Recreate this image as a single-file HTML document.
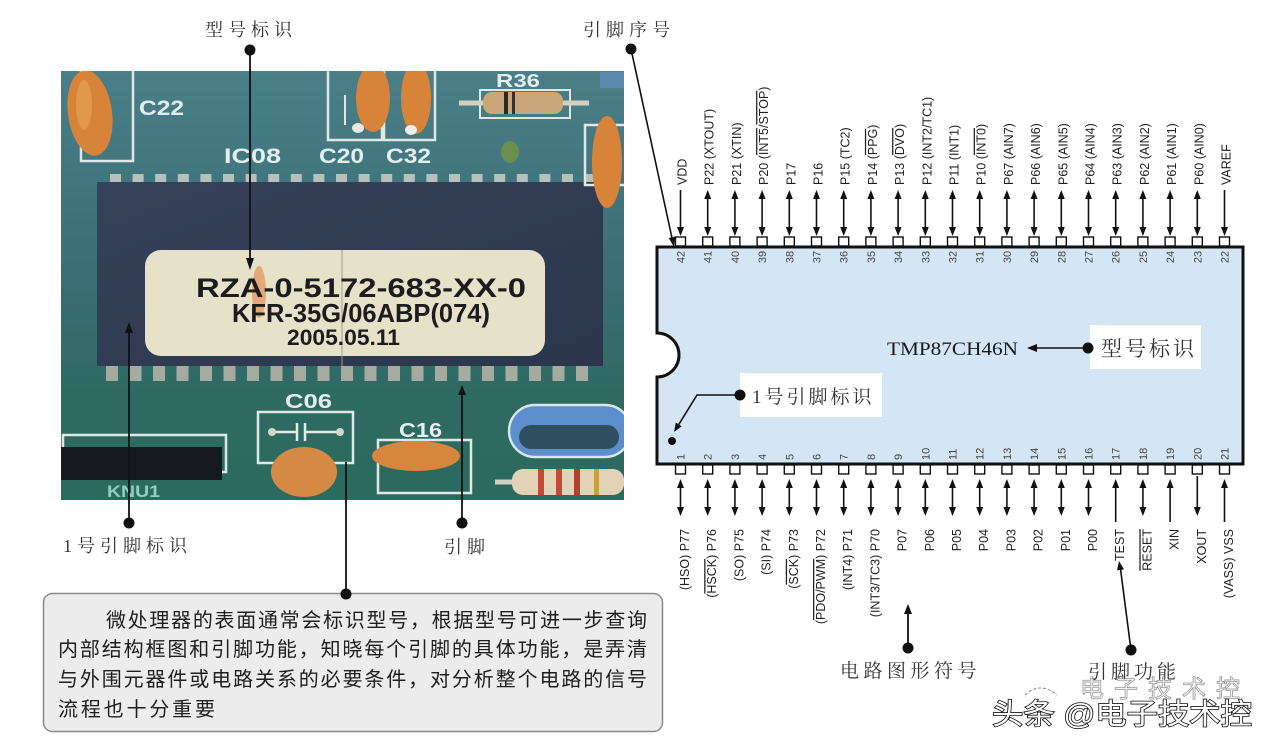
<!DOCTYPE html>
<html><head><meta charset="utf-8"><style>
html,body{margin:0;padding:0;background:#fff;}
svg{display:block;}
.lab{font-family:"Liberation Sans",sans-serif;font-size:12.5px;fill:#1f1f1f;}
.num{font-family:"Liberation Sans",sans-serif;font-size:11px;fill:#444;}
.cn{font-family:"Liberation Serif","Noto Serif CJK SC",serif;fill:#333;}
.ss{font-family:"Liberation Sans",sans-serif;font-weight:bold;fill:#e4eeee;}
.ov{text-decoration:overline;}
</style></head><body>
<svg width="1280" height="754" viewBox="0 0 1280 754" xmlns="http://www.w3.org/2000/svg">
<defs>
<clipPath id="ph"><rect x="61" y="71" width="563" height="429"/></clipPath>
<linearGradient id="pcb" x1="0" y1="0" x2="0" y2="1">
<stop offset="0" stop-color="#4a7f87"/><stop offset="0.45" stop-color="#3b6f78"/><stop offset="0.75" stop-color="#2f6a62"/><stop offset="1" stop-color="#2b6a5e"/>
</linearGradient>
<linearGradient id="chipg" x1="0" y1="0" x2="1" y2="1">
<stop offset="0" stop-color="#37425a"/><stop offset="1" stop-color="#2b364c"/>
</linearGradient>
<g id="tb"><line x1="0" y1="196" x2="0" y2="229" stroke="#111" stroke-width="1.6"/><polygon points="-3.5,199 3.5,199 0,190" fill="#111"/><polygon points="-3.5,227 3.5,227 0,236" fill="#111"/></g>
<g id="td"><line x1="0" y1="190" x2="0" y2="229" stroke="#111" stroke-width="1.6"/><polygon points="-3.5,227 3.5,227 0,236" fill="#111"/></g>
<g id="bb"><line x1="0" y1="485" x2="0" y2="510" stroke="#111" stroke-width="1.6"/><polygon points="-3.5,488 3.5,488 0,479" fill="#111"/><polygon points="-3.5,507 3.5,507 0,516" fill="#111"/></g>
<g id="bu"><line x1="0" y1="485" x2="0" y2="522" stroke="#111" stroke-width="1.6"/><polygon points="-3.5,488 3.5,488 0,479" fill="#111"/></g>
<g id="bd"><line x1="0" y1="476" x2="0" y2="510" stroke="#111" stroke-width="1.6"/><polygon points="-3.5,507 3.5,507 0,516" fill="#111"/></g>
<rect id="tp" x="-5" y="237" width="10" height="9" fill="#fff" stroke="#111" stroke-width="1.4"/>
<rect id="bp" x="-5" y="465" width="10" height="9" fill="#fff" stroke="#111" stroke-width="1.4"/>
</defs>

<rect width="1280" height="754" fill="#fff"/>

<!-- ================= PHOTO ================= -->
<g clip-path="url(#ph)">
<rect x="61" y="71" width="563" height="429" fill="url(#pcb)"/>
<rect x="97" y="182" width="506" height="184" fill="url(#chipg)"/>
<g fill="#b7c1bc">
<rect x="110" y="174" width="11" height="8"/><rect x="132.6" y="174" width="11" height="8"/><rect x="155.2" y="174" width="11" height="8"/><rect x="177.8" y="174" width="11" height="8"/><rect x="200.4" y="174" width="11" height="8"/><rect x="223" y="174" width="11" height="8"/><rect x="245.6" y="174" width="11" height="8"/><rect x="268.2" y="174" width="11" height="8"/><rect x="290.8" y="174" width="11" height="8"/><rect x="313.4" y="174" width="11" height="8"/><rect x="336" y="174" width="11" height="8"/><rect x="358.6" y="174" width="11" height="8"/><rect x="381.2" y="174" width="11" height="8"/><rect x="403.8" y="174" width="11" height="8"/><rect x="426.4" y="174" width="11" height="8"/><rect x="449" y="174" width="11" height="8"/><rect x="471.6" y="174" width="11" height="8"/><rect x="494.2" y="174" width="11" height="8"/><rect x="516.8" y="174" width="11" height="8"/><rect x="539.4" y="174" width="11" height="8"/><rect x="562" y="174" width="11" height="8"/><rect x="584.6" y="174" width="11" height="8"/>
</g>
<g fill="#a5aba0">
<rect x="106" y="366" width="12" height="15"/><rect x="129.5" y="366" width="12" height="15"/><rect x="153" y="366" width="12" height="15"/><rect x="176.5" y="366" width="12" height="15"/><rect x="200" y="366" width="12" height="15"/><rect x="223.5" y="366" width="12" height="15"/><rect x="247" y="366" width="12" height="15"/><rect x="270.5" y="366" width="12" height="15"/><rect x="294" y="366" width="12" height="15"/><rect x="317.5" y="366" width="12" height="15"/><rect x="341" y="366" width="12" height="15"/><rect x="364.5" y="366" width="12" height="15"/><rect x="388" y="366" width="12" height="15"/><rect x="411.5" y="366" width="12" height="15"/><rect x="435" y="366" width="12" height="15"/><rect x="458.5" y="366" width="12" height="15"/><rect x="482" y="366" width="12" height="15"/><rect x="505.5" y="366" width="12" height="15"/><rect x="529" y="366" width="12" height="15"/><rect x="552.5" y="366" width="12" height="15"/><rect x="576" y="366" width="12" height="15"/>
</g>
<rect x="145" y="250" width="400" height="106" rx="16" fill="#e6e2c9"/>
<line x1="342" y1="250" x2="342" y2="366" stroke="#9a9a90" stroke-width="1"/>
<ellipse cx="259" cy="292" rx="7" ry="26" fill="#e49a68" opacity="0.8"/>
<text x="196" y="297" font-family="Liberation Sans, sans-serif" font-weight="bold" font-size="27" fill="#1c1c1c" textLength="330" lengthAdjust="spacingAndGlyphs">RZA-0-5172-683-XX-0</text>
<text x="232" y="322" font-family="Liberation Sans, sans-serif" font-weight="bold" font-size="26" fill="#1c1c1c" textLength="258" lengthAdjust="spacingAndGlyphs">KFR-35G/06ABP(074)</text>
<text x="287" y="345" font-family="Liberation Sans, sans-serif" font-weight="bold" font-size="22" fill="#1c1c1c" textLength="113" lengthAdjust="spacingAndGlyphs">2005.05.11</text>

<rect x="81" y="64" width="52" height="97" fill="none" stroke="#dfe8e6" stroke-width="2.5"/>
<ellipse cx="90" cy="113" rx="22" ry="43" fill="#d7843a" transform="rotate(-8 90 113)"/>
<ellipse cx="84" cy="105" rx="8" ry="25" fill="#e8a45a" opacity="0.6"/>
<text x="139" y="115" class="ss" font-size="21" textLength="45" lengthAdjust="spacingAndGlyphs">C22</text>
<rect x="328" y="60" width="54" height="80" fill="none" stroke="#dfe8e6" stroke-width="2.5"/>
<rect x="384" y="60" width="51" height="80" fill="none" stroke="#dfe8e6" stroke-width="2.5"/>
<ellipse cx="373" cy="98" rx="17" ry="34" fill="#d7843a"/>
<ellipse cx="358" cy="128" rx="6" ry="5" fill="#e8e8e0"/>
<ellipse cx="416" cy="98" rx="15" ry="36" fill="#d7843a"/>
<ellipse cx="411" cy="130" rx="6" ry="5" fill="#f0f0ea"/>
<line x1="345" y1="95" x2="345" y2="125" stroke="#dfe8e6" stroke-width="2"/>
<text x="224" y="163" class="ss" font-size="21" textLength="57" lengthAdjust="spacingAndGlyphs">IC08</text>
<text x="319" y="163" class="ss" font-size="21" textLength="45" lengthAdjust="spacingAndGlyphs">C20</text>
<text x="386" y="163" class="ss" font-size="21" textLength="45" lengthAdjust="spacingAndGlyphs">C32</text>
<text x="496" y="87" class="ss" font-size="18" textLength="44" lengthAdjust="spacingAndGlyphs">R36</text>
<rect x="480" y="90" width="90" height="28" fill="none" stroke="#dfe8e6" stroke-width="2"/>
<line x1="459" y1="103" x2="589" y2="103" stroke="#d2d2c4" stroke-width="5"/>
<rect x="483" y="92" width="80" height="22" rx="9" fill="#c9a77a"/>
<rect x="504" y="92" width="4" height="22" fill="#2a2a2a"/>
<rect x="512" y="92" width="3" height="22" fill="#3a3030"/>
<ellipse cx="510" cy="152" rx="9" ry="11" fill="#6b8f4a"/>
<rect x="585" y="125" width="45" height="60" fill="none" stroke="#dfe8e6" stroke-width="2.5"/>
<ellipse cx="607" cy="162" rx="15" ry="46" fill="#d7843a"/>
<rect x="600" y="72" width="24" height="16" fill="#5a8ab0"/>

<rect x="63" y="435" width="163" height="37" fill="none" stroke="#dfe8e6" stroke-width="2.5"/>
<rect x="61" y="447" width="161" height="33" fill="#151a1c"/>
<text x="107" y="497" class="ss" font-size="17" style="fill:#8fd0c0" textLength="53" lengthAdjust="spacingAndGlyphs">KNU1</text>
<rect x="258" y="412" width="95" height="51" fill="none" stroke="#dfe8e6" stroke-width="2.5"/>
<ellipse cx="304" cy="472" rx="33" ry="25" fill="#d48a45"/>
<line x1="272" y1="432" x2="297" y2="432" stroke="#e4eaea" stroke-width="2.5"/>
<line x1="297" y1="423" x2="297" y2="441" stroke="#e4eaea" stroke-width="2.5"/>
<line x1="305" y1="423" x2="305" y2="441" stroke="#e4eaea" stroke-width="2.5"/>
<line x1="305" y1="432" x2="340" y2="432" stroke="#e4eaea" stroke-width="2.5"/>
<circle cx="272" cy="432" r="4" fill="#d0d6d4"/>
<circle cx="340" cy="432" r="4" fill="#d0d6d4"/>
<text x="285" y="408" class="ss" font-size="20" textLength="47" lengthAdjust="spacingAndGlyphs">C06</text>
<rect x="378" y="440" width="93" height="53" fill="none" stroke="#dfe8e6" stroke-width="2.5"/>
<ellipse cx="416" cy="456" rx="44" ry="15" fill="#d7863d"/>
<text x="399" y="437" class="ss" font-size="20" textLength="43" lengthAdjust="spacingAndGlyphs">C16</text>
<rect x="509" y="405" width="122" height="52" rx="26" fill="#5b8ecb" stroke="#d9e6e8" stroke-width="2.5"/>
<rect x="519" y="425" width="100" height="24" rx="12" fill="#2f4f60"/>
<line x1="495" y1="482" x2="624" y2="482" stroke="#cfcfc4" stroke-width="5"/>
<rect x="512" y="469" width="112" height="26" rx="11" fill="#e2d2b8"/>
<rect x="538" y="469" width="6" height="26" fill="#c84838"/>
<rect x="556" y="469" width="6" height="26" fill="#c84838"/>
<rect x="574" y="469" width="6" height="26" fill="#b04030"/>
<rect x="594" y="469" width="5" height="26" fill="#c8a040"/>
</g>

<circle cx="250" cy="50" r="5.5" fill="#111"/>
<line x1="250" y1="50" x2="250" y2="262" stroke="#111" stroke-width="1.8"/>
<polygon points="246,258 254,258 250,270" fill="#111"/>
<circle cx="129" cy="523" r="5.5" fill="#111"/>
<line x1="129" y1="523" x2="129" y2="330" stroke="#111" stroke-width="1.8"/>
<polygon points="125,333 133,333 129,322" fill="#111"/>
<circle cx="462" cy="523" r="5.5" fill="#111"/>
<line x1="462" y1="523" x2="462" y2="392" stroke="#111" stroke-width="1.8"/>
<polygon points="458,395 466,395 462,385" fill="#111"/>
<line x1="346" y1="594" x2="346" y2="462" stroke="#111" stroke-width="1.8"/>

<text x="205" y="36" class="cn" font-size="18" letter-spacing="5">型号标识</text>
<text x="583" y="36" class="cn" font-size="18" letter-spacing="5">引脚序号</text>
<text x="63" y="552" class="cn" font-size="18" letter-spacing="5">1号引脚标识</text>
<text x="444" y="553" class="cn" font-size="18" letter-spacing="5">引脚</text>

<rect x="43.5" y="593.5" width="619" height="138" rx="9" fill="#ececec" stroke="#8a8a8a" stroke-width="1.5"/>
<circle cx="346" cy="594" r="5.5" fill="#111"/>
<g font-family="Liberation Sans, 'Noto Sans CJK SC', sans-serif" font-size="20" fill="#1e1e1e">
<text x="106" y="627" textLength="541" lengthAdjust="spacing">微处理器的表面通常会标识型号，根据型号可进一步查询</text>
<text x="58" y="656" textLength="589" lengthAdjust="spacing">内部结构框图和引脚功能，知晓每个引脚的具体功能，是弄清</text>
<text x="58" y="686" textLength="589" lengthAdjust="spacing">与外围元器件或电路关系的必要条件，对分析整个电路的信号</text>
<text x="58" y="716" textLength="157" lengthAdjust="spacing">流程也十分重要</text>
</g>

<!-- ================= CHIP DIAGRAM ================= -->
<circle cx="631" cy="49" r="5.5" fill="#111"/>
<line x1="631" y1="49" x2="672" y2="238" stroke="#111" stroke-width="1.6"/>
<polygon points="675.5,236.5 668.7,238 674,247" fill="#111"/>

<use href="#tp" x="680.5"/><use href="#tp" x="707.7"/><use href="#tp" x="734.9"/><use href="#tp" x="762.1"/><use href="#tp" x="789.3"/><use href="#tp" x="816.5"/><use href="#tp" x="843.7"/><use href="#tp" x="870.9"/><use href="#tp" x="898.1"/><use href="#tp" x="925.3"/><use href="#tp" x="952.5"/><use href="#tp" x="979.7"/><use href="#tp" x="1006.9"/><use href="#tp" x="1034.1"/><use href="#tp" x="1061.3"/><use href="#tp" x="1088.5"/><use href="#tp" x="1115.7"/><use href="#tp" x="1142.9"/><use href="#tp" x="1170.1"/><use href="#tp" x="1197.3"/><use href="#tp" x="1224.5"/>
<use href="#bp" x="680.5"/><use href="#bp" x="707.7"/><use href="#bp" x="734.9"/><use href="#bp" x="762.1"/><use href="#bp" x="789.3"/><use href="#bp" x="816.5"/><use href="#bp" x="843.7"/><use href="#bp" x="870.9"/><use href="#bp" x="898.1"/><use href="#bp" x="925.3"/><use href="#bp" x="952.5"/><use href="#bp" x="979.7"/><use href="#bp" x="1006.9"/><use href="#bp" x="1034.1"/><use href="#bp" x="1061.3"/><use href="#bp" x="1088.5"/><use href="#bp" x="1115.7"/><use href="#bp" x="1142.9"/><use href="#bp" x="1170.1"/><use href="#bp" x="1197.3"/><use href="#bp" x="1224.5"/>

<path d="M657,247 H1243 V464 H657 V377 A22,22 0 0 0 657,333 Z" fill="#d4e6f4" stroke="#111" stroke-width="3"/>

<use href="#td" x="680.5"/><use href="#tb" x="707.7"/><use href="#tb" x="734.9"/><use href="#tb" x="762.1"/><use href="#tb" x="789.3"/><use href="#tb" x="816.5"/><use href="#tb" x="843.7"/><use href="#tb" x="870.9"/><use href="#tb" x="898.1"/><use href="#tb" x="925.3"/><use href="#tb" x="952.5"/><use href="#tb" x="979.7"/><use href="#tb" x="1006.9"/><use href="#tb" x="1034.1"/><use href="#tb" x="1061.3"/><use href="#tb" x="1088.5"/><use href="#tb" x="1115.7"/><use href="#tb" x="1142.9"/><use href="#tb" x="1170.1"/><use href="#tb" x="1197.3"/><use href="#td" x="1224.5"/>
<use href="#bb" x="680.5"/><use href="#bb" x="707.7"/><use href="#bb" x="734.9"/><use href="#bb" x="762.1"/><use href="#bb" x="789.3"/><use href="#bb" x="816.5"/><use href="#bb" x="843.7"/><use href="#bb" x="870.9"/><use href="#bb" x="898.1"/><use href="#bb" x="925.3"/><use href="#bb" x="952.5"/><use href="#bb" x="979.7"/><use href="#bb" x="1006.9"/><use href="#bb" x="1034.1"/><use href="#bb" x="1061.3"/><use href="#bb" x="1088.5"/><use href="#bu" x="1115.7"/><use href="#bb" x="1142.9"/><use href="#bu" x="1170.1"/><use href="#bd" x="1197.3"/><use href="#bu" x="1224.5"/>

<g class="lab">
<text transform="translate(686.5,185) rotate(-90)">VDD</text>
<text transform="translate(713.7,185) rotate(-90)">P22 (XTOUT)</text>
<text transform="translate(740.9,185) rotate(-90)">P21 (XTIN)</text>
<text transform="translate(768.1,185) rotate(-90)">P20 (<tspan class="ov">INT5</tspan>/<tspan class="ov">STOP</tspan>)</text>
<text transform="translate(795.3,185) rotate(-90)">P17</text>
<text transform="translate(822.5,185) rotate(-90)">P16</text>
<text transform="translate(849.7,185) rotate(-90)">P15 (TC2)</text>
<text transform="translate(876.9,185) rotate(-90)">P14 (<tspan class="ov">PPG</tspan>)</text>
<text transform="translate(904.1,185) rotate(-90)">P13 (<tspan class="ov">DVO</tspan>)</text>
<text transform="translate(931.3,185) rotate(-90)">P12 (INT2/TC1)</text>
<text transform="translate(958.5,185) rotate(-90)">P11 (INT1)</text>
<text transform="translate(985.7,185) rotate(-90)">P10 (<tspan class="ov">INT0</tspan>)</text>
<text transform="translate(1012.9,185) rotate(-90)">P67 (AIN7)</text>
<text transform="translate(1040.1,185) rotate(-90)">P66 (AIN6)</text>
<text transform="translate(1067.3,185) rotate(-90)">P65 (AIN5)</text>
<text transform="translate(1094.5,185) rotate(-90)">P64 (AIN4)</text>
<text transform="translate(1121.7,185) rotate(-90)">P63 (AIN3)</text>
<text transform="translate(1148.9,185) rotate(-90)">P62 (AIN2)</text>
<text transform="translate(1176.1,185) rotate(-90)">P61 (AIN1)</text>
<text transform="translate(1203.3,185) rotate(-90)">P60 (AIN0)</text>
<text transform="translate(1230.5,185) rotate(-90)">VAREF</text>
</g>
<g class="lab" text-anchor="end">
<text transform="translate(689,529) rotate(-90)">(HSO) P77</text>
<text transform="translate(716.2,529) rotate(-90)">(<tspan class="ov">HSCK</tspan>) P76</text>
<text transform="translate(743.4,529) rotate(-90)">(SO) P75</text>
<text transform="translate(770.6,529) rotate(-90)">(SI) P74</text>
<text transform="translate(797.8,529) rotate(-90)">(<tspan class="ov">SCK</tspan>) P73</text>
<text transform="translate(825,529) rotate(-90)">(<tspan class="ov">PDO/PWM</tspan>) P72</text>
<text transform="translate(852.2,529) rotate(-90)">(INT4) P71</text>
<text transform="translate(879.4,529) rotate(-90)">(INT3/TC3) P70</text>
<text transform="translate(906.6,529) rotate(-90)">P07</text>
<text transform="translate(933.8,529) rotate(-90)">P06</text>
<text transform="translate(961,529) rotate(-90)">P05</text>
<text transform="translate(988.2,529) rotate(-90)">P04</text>
<text transform="translate(1015.4,529) rotate(-90)">P03</text>
<text transform="translate(1042.6,529) rotate(-90)">P02</text>
<text transform="translate(1069.8,529) rotate(-90)">P01</text>
<text transform="translate(1097,529) rotate(-90)">P00</text>
<text transform="translate(1124.2,529) rotate(-90)">TEST</text>
<text transform="translate(1151.4,529) rotate(-90)"><tspan class="ov">RESET</tspan></text>
<text transform="translate(1178.6,529) rotate(-90)">XIN</text>
<text transform="translate(1205.8,529) rotate(-90)">XOUT</text>
<text transform="translate(1233,529) rotate(-90)">(VASS) VSS</text>
</g>

<g class="num" text-anchor="middle">
<text transform="translate(684.5,257) rotate(-90)">42</text>
<text transform="translate(711.7,257) rotate(-90)">41</text>
<text transform="translate(738.9,257) rotate(-90)">40</text>
<text transform="translate(766.1,257) rotate(-90)">39</text>
<text transform="translate(793.3,257) rotate(-90)">38</text>
<text transform="translate(820.5,257) rotate(-90)">37</text>
<text transform="translate(847.7,257) rotate(-90)">36</text>
<text transform="translate(874.9,257) rotate(-90)">35</text>
<text transform="translate(902.1,257) rotate(-90)">34</text>
<text transform="translate(929.3,257) rotate(-90)">33</text>
<text transform="translate(956.5,257) rotate(-90)">32</text>
<text transform="translate(983.7,257) rotate(-90)">31</text>
<text transform="translate(1010.9,257) rotate(-90)">30</text>
<text transform="translate(1038.1,257) rotate(-90)">29</text>
<text transform="translate(1065.3,257) rotate(-90)">28</text>
<text transform="translate(1092.5,257) rotate(-90)">27</text>
<text transform="translate(1119.7,257) rotate(-90)">26</text>
<text transform="translate(1146.9,257) rotate(-90)">25</text>
<text transform="translate(1174.1,257) rotate(-90)">24</text>
<text transform="translate(1201.3,257) rotate(-90)">23</text>
<text transform="translate(1228.5,257) rotate(-90)">22</text>
</g>
<g class="num">
<text transform="translate(684.5,460) rotate(-90)">1</text>
<text transform="translate(711.7,460) rotate(-90)">2</text>
<text transform="translate(738.9,460) rotate(-90)">3</text>
<text transform="translate(766.1,460) rotate(-90)">4</text>
<text transform="translate(793.3,460) rotate(-90)">5</text>
<text transform="translate(820.5,460) rotate(-90)">6</text>
<text transform="translate(847.7,460) rotate(-90)">7</text>
<text transform="translate(874.9,460) rotate(-90)">8</text>
<text transform="translate(902.1,460) rotate(-90)">9</text>
<text transform="translate(929.3,460) rotate(-90)">10</text>
<text transform="translate(956.5,460) rotate(-90)">11</text>
<text transform="translate(983.7,460) rotate(-90)">12</text>
<text transform="translate(1010.9,460) rotate(-90)">13</text>
<text transform="translate(1038.1,460) rotate(-90)">14</text>
<text transform="translate(1065.3,460) rotate(-90)">15</text>
<text transform="translate(1092.5,460) rotate(-90)">16</text>
<text transform="translate(1119.7,460) rotate(-90)">17</text>
<text transform="translate(1146.9,460) rotate(-90)">18</text>
<text transform="translate(1174.1,460) rotate(-90)">19</text>
<text transform="translate(1201.3,460) rotate(-90)">20</text>
<text transform="translate(1228.5,460) rotate(-90)">21</text>
</g>

<text x="887" y="355" font-family="Liberation Serif, serif" font-size="19" fill="#1a1a1a" textLength="131" lengthAdjust="spacingAndGlyphs">TMP87CH46N</text>
<line x1="1034" y1="348" x2="1088" y2="348" stroke="#111" stroke-width="1.6"/>
<polygon points="1027,348 1037,344 1037,352" fill="#111"/>
<rect x="1090" y="325" width="111" height="44" fill="#fff"/>
<circle cx="1088" cy="348" r="5.5" fill="#111"/>
<text x="1101" y="356" class="cn" font-size="21" letter-spacing="3">型号标识</text>

<rect x="740" y="373" width="142" height="44" fill="#fff"/>
<polyline points="740,395 697,395 678.8,424.4" fill="none" stroke="#111" stroke-width="1.6"/>
<polygon points="681.7,426.2 675.8,422.5 674,432" fill="#111"/>
<circle cx="740" cy="395" r="5.5" fill="#111"/>
<text x="752" y="403" class="cn" font-size="19" letter-spacing="3">1号引脚标识</text>
<circle cx="672" cy="441" r="4" fill="#111"/>

<circle cx="908" cy="648" r="5.5" fill="#111"/>
<line x1="908" y1="648" x2="908" y2="612" stroke="#111" stroke-width="1.8"/>
<polygon points="904,614 912,614 908,604" fill="#111"/>
<text x="840" y="677" class="cn" font-size="19" letter-spacing="4.5">电路图形符号</text>

<circle cx="1131" cy="650" r="5.5" fill="#111"/>
<line x1="1131" y1="650" x2="1120.5" y2="569" stroke="#111" stroke-width="1.6"/>
<polygon points="1124,569.5 1117,570.3 1119,561" fill="#111"/>
<text x="1088" y="678" class="cn" font-size="19" letter-spacing="4">引脚功能</text>

<text x="1080" y="697" font-family="Liberation Sans, 'Noto Sans CJK SC', sans-serif" font-size="24" fill="#fff" stroke="#666" stroke-width="0.8" opacity="0.7" textLength="160">电子技术控</text>
<path d="M1025,695 q15,-14 32,0" fill="none" stroke="#888" stroke-width="1" stroke-dasharray="3,2"/>
<text x="992" y="724" font-family="Liberation Sans, 'Noto Sans CJK SC', sans-serif" font-size="29" fill="#fff" stroke="#111" stroke-width="1.6" paint-order="stroke" textLength="260" lengthAdjust="spacingAndGlyphs">头条 @电子技术控</text>
</svg>
</body></html>
